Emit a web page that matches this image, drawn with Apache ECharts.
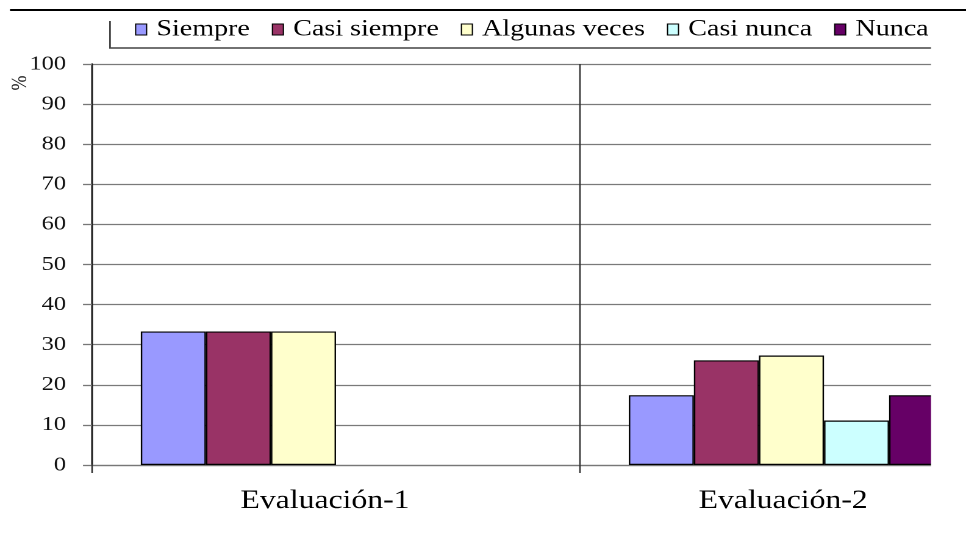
<!DOCTYPE html>
<html>
<head>
<meta charset="utf-8">
<script src="https://cdn.jsdelivr.net/npm/echarts@6.0.0/dist/echarts.min.js"></script>
<style>
  html,body{margin:0;padding:0;background:#fff;overflow:hidden}
  /* the source picture is stretched sideways, so the chart is drawn narrow and widened */
  #chart{width:792px;height:533px;transform:scaleX(1.219697);transform-origin:0 0}
</style>
</head>
<body>
<div id="chart"></div>
<script>
// data (percent)
const categories = ['Evaluación-1', 'Evaluación-2'];
const seriesNames = ['Siempre', 'Casi siempre', 'Algunas veces', 'Casi nunca', 'Nunca'];
const siempre      = [33.3, 17.4];
const casiSiempre  = [33.3, 26.1];
const algunasVeces = [33.3, 27.3];
const casiNunca    = [0, 11.1];
const nunca        = [0, 17.4];
const emptySlot    = [null, null]; // sixth, empty slot the original keeps in each group
const yTicks = [0, 10, 20, 30, 40, 50, 60, 70, 80, 90, 100];

const palette = ['#9999FF', '#993366', '#FFFFCC', '#CCFFFF', '#660066'];
const serif = '"Liberation Serif", "DejaVu Serif", serif';

const values = [siempre, casiSiempre, algunasVeces, casiNunca, nunca];
const series = values.map((v, i) => ({
  name: seriesNames[i],
  type: 'bar',
  // zero bars get no outline, like the original
  data: v.map(x => x === 0 ? { value: 0, itemStyle: { borderWidth: 0 } } : x),
  barGap: 0,
  barCategoryGap: '20%',
  itemStyle: { color: palette[i], borderColor: '#000', borderWidth: 1.2 }
}));
series.push({ name: 'vacío', type: 'bar', data: emptySlot, barGap: 0, barCategoryGap: '20%', itemStyle: { color: 'transparent' } });

const chart = echarts.init(document.getElementById('chart'), null, { devicePixelRatio: 2 });
chart.setOption({
  animation: false,
  backgroundColor: '#fff',
  grid: { left: 75.43, top: 64, width: 800.2, height: 401, containLabel: false, outerBoundsMode: 'none' },
  legend: {
    data: seriesNames,
    left: 110.7, top: 18, padding: 0,
    itemWidth: 9, itemHeight: 11, itemGap: 18,
    icon: 'rect',
    itemStyle: { borderColor: '#000', borderWidth: 1 },
    textStyle: { fontFamily: serif, fontSize: 23, lineHeight: 23, color: '#000', padding: [0, 0, 0, 3] }
  },
  xAxis: {
    type: 'category',
    data: categories,
    boundaryGap: true,
    axisLine: { show: true, lineStyle: { color: '#777', width: 1.3 } },
    axisTick: { show: true, interval: 0, length: 8, lineStyle: { color: '#333', width: 1.3 } },
    splitLine: { show: true, interval: 0, lineStyle: { color: '#333', width: 1.3 } },
    axisLabel: {
      interval: 0, margin: 23,
      formatter: (v, i) => '{c' + i + '|' + v + '}',
      rich: {
        c0: { fontFamily: serif, fontSize: 26, lineHeight: 26, color: '#000', padding: [0, 18, 0, 0] },
        c1: { fontFamily: serif, fontSize: 26, lineHeight: 26, color: '#000', padding: [0, 67, 0, 0] }
      }
    }
  },
  yAxis: {
    type: 'value',
    min: yTicks[0], max: yTicks[yTicks.length - 1], interval: yTicks[1] - yTicks[0],
    axisLine: { show: true, lineStyle: { color: '#222', width: 1.4 } },
    axisTick: { show: true, length: 7.4, lineStyle: { color: '#777', width: 1.3 } },
    splitLine: { show: true, lineStyle: { color: '#7a7a7a', width: 1.3 } },
    axisLabel: { margin: 21.3, fontFamily: serif, fontSize: 20, color: '#111' }
  },
  series: series,
  graphic: [
    { type: 'line', shape: { x1: 8.2, y1: 10, x2: 792, y2: 10 }, style: { stroke: '#000', lineWidth: 2 }, z: 101 },
    { type: 'polyline', shape: { points: [[90.2, 21], [90.2, 48], [792, 48]] }, style: { stroke: '#444', lineWidth: 1.4, fill: null }, z: 99 },
    { type: 'rect', shape: { x: 763.3, y: 14, width: 40, height: 530 }, style: { fill: '#fff' }, z: 100 },
    { type: 'text', x: 17, y: 83, rotation: Math.PI / 2,
      style: { text: '%', font: '18px ' + serif, fill: '#222', textAlign: 'center', textVerticalAlign: 'middle' }, z: 101 }
  ]
});
</script>
</body>
</html>
